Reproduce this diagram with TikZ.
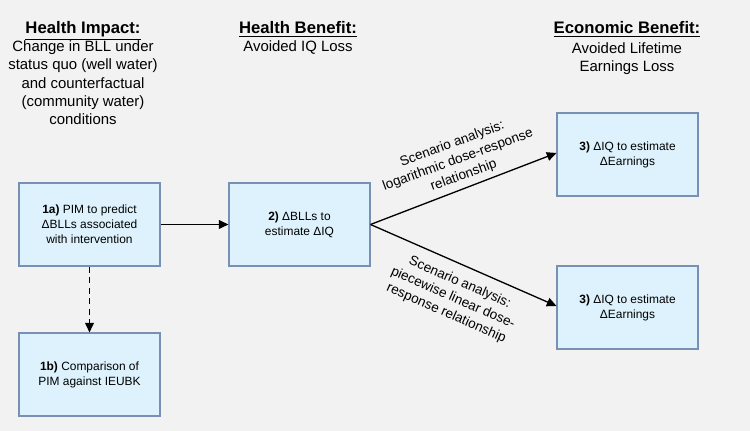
\documentclass[tikz,border=0pt]{standalone}
\usepackage{fontspec}
\setmainfont{Liberation Sans}
\usetikzlibrary{arrows.meta}

\definecolor{bgcol}{HTML}{F2F2F2}
\definecolor{boxfill}{HTML}{DDF2FC}
\definecolor{boxline}{HTML}{7890B4}

\tikzset{
    stepbox/.style={draw=boxline,fill=boxfill,line width=0.6pt,
        minimum width=2.82cm,minimum height=1.66cm,align=center,
        font=\fontsize{6.8}{8.5}\selectfont},
    heading/.style={align=center,anchor=north,
        font=\fontsize{8.5}{10.4}\selectfont},
    scenario/.style={align=center,font=\fontsize{7.7}{9.6}\selectfont},
    flow/.style={-{Triangle[length=5.5pt,width=5pt]},line width=0.75pt}
}

\begin{document}
\begin{tikzpicture}[x=0.02cm,y=-0.02cm]
    % Hintergrund
    \fill[bgcol] (0,0) rectangle (750,431);
    \useasboundingbox (0,0) rectangle (750,431);

    % Spaltenueberschriften
    \node[heading] (impact) at (83,15) {{\fontsize{9.5}{11}\selectfont\bfseries\underline{Health Impact:}}\\
        Change in BLL under\\status quo (well water)\\and counterfactual\\(community water)\\conditions};
    \node[heading] (benefit) at (298,15) {{\fontsize{9.5}{11}\selectfont\bfseries\underline{Health Benefit:}}\\
        Avoided IQ Loss};
    \node[heading] (econ) at (627,15) {{\fontsize{9.5}{11}\selectfont\bfseries\underline{Economic Benefit:}}\\[1pt]
        Avoided Lifetime\\Earnings Loss};

    % Kaesten
    \node[stepbox] (pim) at (89.5,224.5) {\textbf{1a)} PIM to predict\\ΔBLLs associated\\with intervention};
    \node[stepbox] (cmp) at (89.5,374.5) {\textbf{1b)} Comparison of\\PIM against IEUBK};
    \node[stepbox] (iq) at (299.5,224.5) {\textbf{2)} ΔBLLs to\\estimate ΔIQ};
    \node[stepbox] (earnA) at (627.5,154.5) {\textbf{3)} ΔIQ to estimate\\ΔEarnings};
    \node[stepbox] (earnB) at (627.5,307.5) {\textbf{3)} ΔIQ to estimate\\ΔEarnings};

    % Verbindungen
    \draw[flow] (pim) -- (iq);
    \draw[flow,dash pattern=on 3.5pt off 2.5pt] (pim) -- (cmp);
    \draw[flow] (iq.east) -- ([yshift=0.03cm]earnA.west);
    \draw[flow] (iq.east) -- ([yshift=0.03cm]earnB.west);

    % Szenarien
    \node[scenario,rotate=20] (logdr) at (458,160) {Scenario analysis:\\logarithmic dose-response\\relationship};
    \node[scenario,rotate=-23.7] (pwdr) at (453,298) {Scenario analysis:\\piecewise linear dose-\\response relationship};
\end{tikzpicture}
\end{document}
